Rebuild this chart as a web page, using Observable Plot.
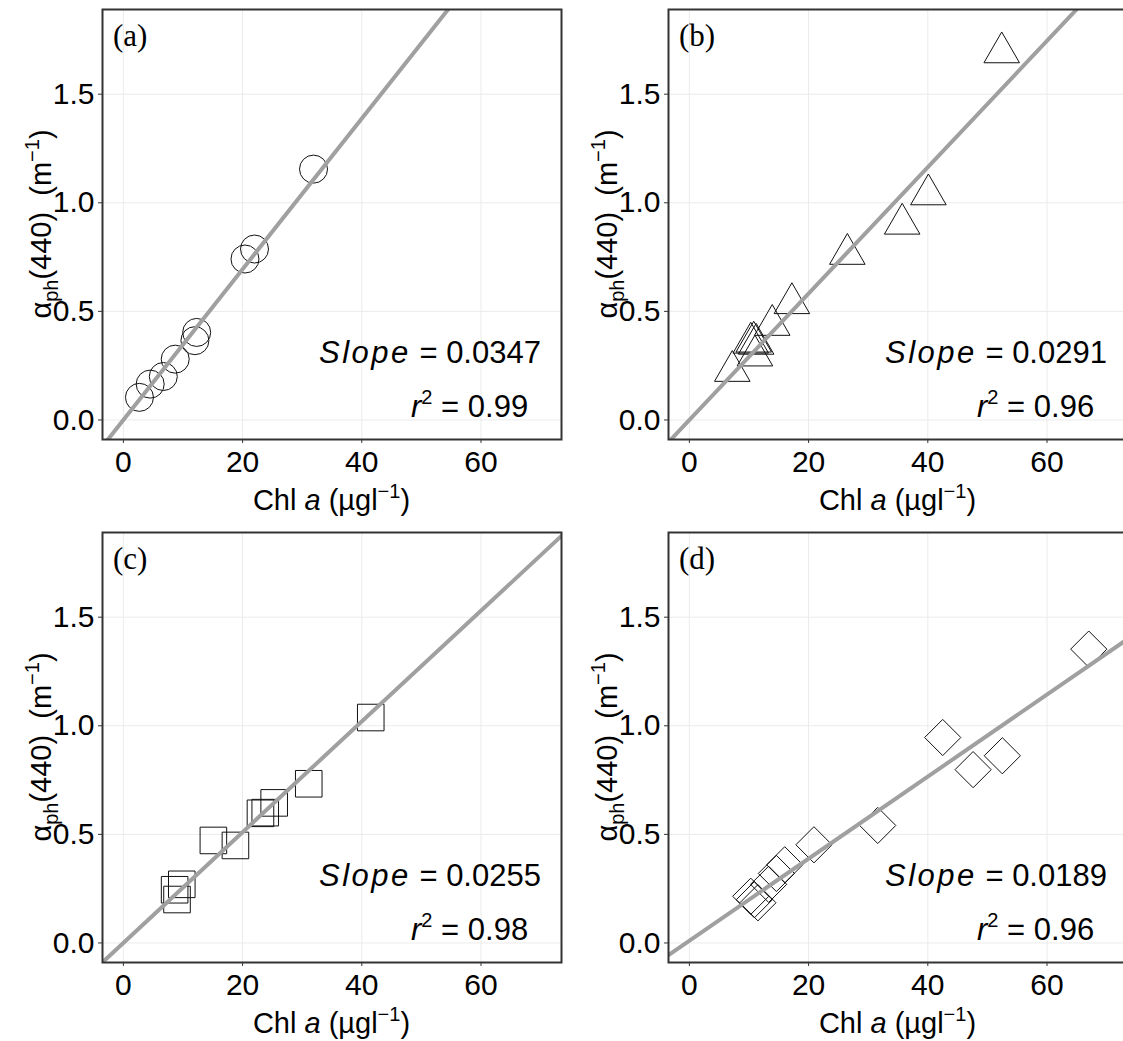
<!DOCTYPE html>
<html>
<head>
<meta charset="utf-8">
<script src="https://cdn.jsdelivr.net/npm/d3@7"></script>
<script src="https://cdn.jsdelivr.net/npm/@observablehq/plot@0.6"></script>
<style>
  html, body { margin: 0; padding: 0; background: #fff; overflow: hidden; }
  #figure { position: relative; width: 1123px; height: 1041px; overflow: hidden; }
  .panel { position: absolute; width: 566px; height: 519px; }
  .panel svg { max-width: none; overflow: visible; }
</style>
</head>
<body>
<div id="figure"></div>
<script>
// Shared axes
const xTicks = [0, 20, 40, 60];
const yTicks = [0, 0.5, 1.0, 1.5];
const xDomain = [-3.5, 73.5];
const yDomain = [-0.09, 1.89];

// Panel tags, regression slopes/intercepts and r² values
const panelTags = ["(a)", "(b)", "(c)", "(d)"];
const slopes = [0.0347, 0.0291, 0.0255, 0.0189];
const intercepts = [0, 0, 0, 0.01];
const rSquared = [0.99, 0.96, 0.98, 0.96];
const symbols = ["circle", "triangle", "square", "diamond2"];
const symbolRadius = [14, 13.2, 15, 16.3];

// (a) Chl a (µg/l) vs aph(440) (1/m)
const chlA = [2.7, 4.5, 6.7, 8.7, 12.0, 12.3, 20.4, 22.0, 31.9];
const aphA = [0.104, 0.165, 0.20, 0.28, 0.365, 0.403, 0.741, 0.787, 1.155];
// (b)
const chlB = [7.2, 10.3, 10.8, 11.2, 11.0, 13.9, 17.2, 26.5, 35.7, 40.1, 52.4];
const aphB = [0.225, 0.355, 0.36, 0.35, 0.296, 0.437, 0.537, 0.764, 0.903, 1.038, 1.692];
// (c)
const chlC = [8.6, 9.0, 9.8, 15.1, 18.8, 23.0, 23.8, 25.3, 31.1, 41.5];
const aphC = [0.245, 0.20, 0.27, 0.472, 0.449, 0.597, 0.60, 0.645, 0.733, 1.038];
// (d)
const chlD = [10.3, 10.9, 11.5, 13.3, 14.6, 16.0, 20.9, 31.6, 42.5, 47.6, 52.5, 67.0];
const aphD = [0.215, 0.199, 0.185, 0.27, 0.32, 0.36, 0.452, 0.541, 0.946, 0.798, 0.862, 1.353];

const panelData = [[chlA, aphA], [chlB, aphB], [chlC, aphC], [chlD, aphD]];

// Panel geometry
const W = 566, H = 519, ML = 102, MR = 5, MT = 9, MB = 80;
const panelPos = [[0, 0], [566.4, 0], [0, 523.3], [566.4, 523.3]];
const sans = "'Liberation Sans', Arial, Helvetica, sans-serif";
const serif = "'Liberation Serif', 'Times New Roman', serif";

function drawPanel(i) {
  const [chl, aph] = panelData[i];
  const rows = chl.map((c, k) => ({chl: c, aph: aph[k]}));
  const fit = xDomain.map(x => ({chl: x, aph: intercepts[i] + slopes[i] * x}));

  const svg = Plot.plot({
    width: W, height: H,
    marginLeft: ML, marginRight: MR, marginTop: MT, marginBottom: MB,
    style: {fontFamily: sans, fontSize: "30px", background: "transparent", color: "#000"},
    x: {domain: xDomain},
    y: {domain: yDomain},
    marks: [
      Plot.gridX(xTicks, {stroke: "#ebebeb", strokeOpacity: 1, strokeWidth: 1}),
      Plot.gridY(yTicks, {stroke: "#ebebeb", strokeOpacity: 1, strokeWidth: 1}),
      Plot.axisX(xTicks, {tickSize: 4, tickPadding: 7, stroke: "#333", fill: "#000",
        fontSize: 30, fontFamily: sans, label: null}),
      Plot.axisY(yTicks, {tickSize: 4, tickPadding: 4, stroke: "#333", fill: "#000",
        fontSize: 30, fontFamily: sans, tickFormat: d3.format(".1f"), label: null}),
      Plot.dot(rows, {x: "chl", y: "aph", symbol: () => symbols[i], r: symbolRadius[i],
        fill: "none", stroke: "#111", strokeWidth: 1}),
      Plot.line(fit, {x: "chl", y: "aph", stroke: "#a0a0a0", strokeWidth: 4, clip: true}),
      Plot.frame({stroke: "#333", strokeWidth: 2})
    ]
  });

  const s = d3.select(svg);
  const fx0 = ML, fx1 = W - MR, fy0 = MT, fy1 = H - MB;
  const cx = (fx0 + fx1) / 2, cy = (fy0 + fy1) / 2;

  // panel tag
  s.append("text")
    .attr("x", fx0 + 11).attr("y", fy0 + 37)
    .attr("text-anchor", "start")
    .attr("font-family", serif).attr("font-size", 31).attr("fill", "#000")
    .text(panelTags[i]);

  // x-axis title: Chl a (µgl⁻¹)
  const xt = s.append("text")
    .attr("x", cx).attr("y", fy1 + 71)
    .attr("text-anchor", "middle").attr("font-family", sans).attr("font-size", 29)
    .attr("fill", "#000").style("white-space", "pre");
  xt.append("tspan").text("Chl ");
  xt.append("tspan").attr("font-style", "italic").text("a");
  xt.append("tspan").text(" (µgl");
  xt.append("tspan").attr("font-size", 20).attr("dy", -12).text("−1");
  xt.append("tspan").attr("dy", 12).text(")");

  // y-axis title: αph(440)  (m⁻¹)
  const yt = s.append("text")
    .attr("transform", `translate(${fx0 - 51},${cy}) rotate(-90)`)
    .attr("text-anchor", "middle").attr("font-family", sans).attr("font-size", 29)
    .attr("fill", "#000").style("white-space", "pre");
  yt.append("tspan").text("α");
  yt.append("tspan").attr("font-size", 20).attr("dy", 7).text("ph");
  yt.append("tspan").attr("dy", -7).text("(440)  (m");
  yt.append("tspan").attr("font-size", 20).attr("dy", -12).text("−1");
  yt.append("tspan").attr("dy", 12).text(")");

  // regression statistics
  const a1 = s.append("text")
    .attr("x", fx0 + 217).attr("y", fy0 + 354)
    .attr("text-anchor", "start")
    .attr("font-family", sans).attr("font-size", 31).attr("fill", "#000")
    .style("white-space", "pre");
  a1.append("tspan").attr("font-style", "italic").attr("letter-spacing", 2.5).text("Slope");
  a1.append("tspan").text(" = " + d3.format(".4f")(slopes[i]));

  const a2 = s.append("text")
    .attr("x", fx0 + 309).attr("y", fy0 + 408)
    .attr("text-anchor", "start")
    .attr("font-family", sans).attr("font-size", 31).attr("fill", "#000")
    .style("white-space", "pre");
  a2.append("tspan").attr("font-style", "italic").text("r");
  a2.append("tspan").attr("font-size", 20).attr("dy", -13).text("2");
  a2.append("tspan").attr("dy", 13).text(" = " + d3.format(".2f")(rSquared[i]));

  const div = document.createElement("div");
  div.className = "panel";
  div.style.left = panelPos[i][0] + "px";
  div.style.top = panelPos[i][1] + "px";
  div.appendChild(svg);
  document.getElementById("figure").appendChild(div);
}

for (let i = 0; i < 4; i++) drawPanel(i);
</script>
</body>
</html>
